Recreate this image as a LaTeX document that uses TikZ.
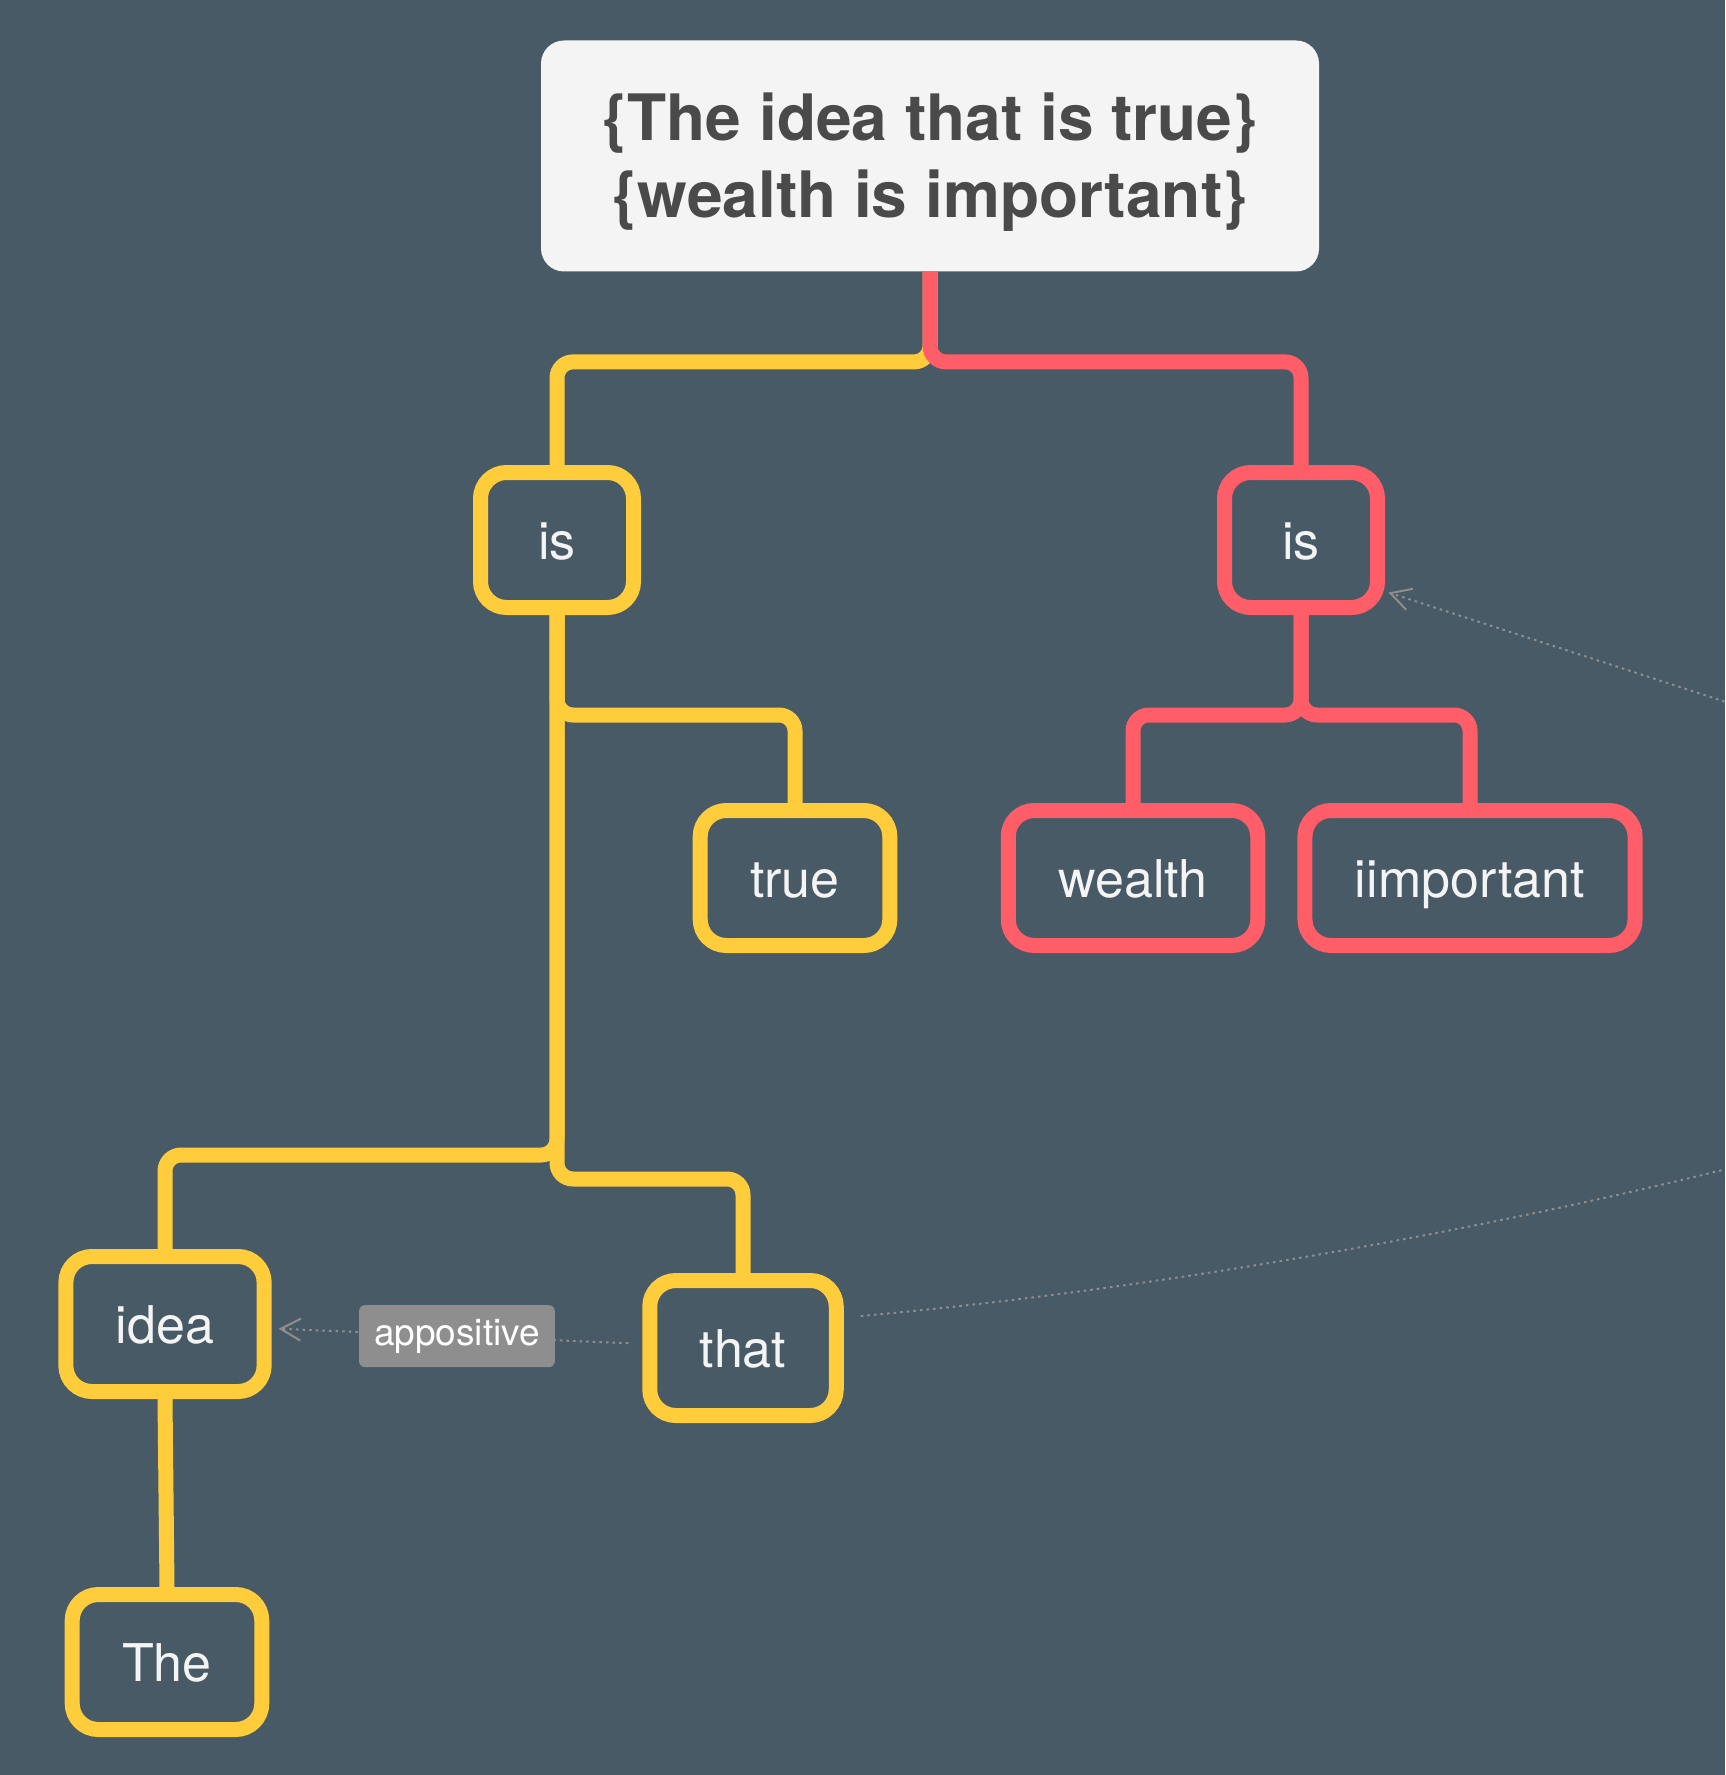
\documentclass[tikz,border=0pt]{standalone}
\usepackage{fontspec}
\setmainfont{TeX Gyre Heros}
\usetikzlibrary{arrows.meta}
\definecolor{slate}{RGB}{71,90,102}
\definecolor{sunny}{RGB}{255,205,60}
\definecolor{coral}{RGB}{255,94,104}
\definecolor{paper}{RGB}{244,244,244}
\definecolor{ink}{RGB}{74,74,74}
\definecolor{relgray}{RGB}{142,142,142}
\begin{document}
\begin{tikzpicture}[x=0.5pt,y=0.5pt,yscale=-1,
	word/.style={draw, line width=7.5pt, rounded corners=13pt, inner xsep=25pt, minimum width=76.5pt, minimum height=67.5pt, text height=19.3pt, text depth=0pt, text=paper, font=\fontsize{26}{31}\selectfont},
	yword/.style={word, draw=sunny},
	rword/.style={word, draw=coral},
	yline/.style={draw=sunny, line width=7.5pt, rounded corners=8pt},
	rline/.style={draw=coral, line width=7.5pt, rounded corners=8pt},
	rel/.style={draw=relgray, line width=1pt, dash pattern=on 1.3pt off 2pt, -{Straight Barb[length=10pt,width=11pt]}},
	reltag/.style={fill=relgray, rounded corners=3pt, text=white, inner xsep=7.5pt, minimum height=31pt, font=\fontsize{18.5}{22}\selectfont}]
	\fill[slate] (0,0) rectangle (1725,1775);
	\useasboundingbox (0,0) rectangle (1725,1775);
	\clip (0,0) rectangle (1725,1775);
	
	% Root
	\node[fill=paper, rounded corners=11.5pt, minimum width=389pt, minimum height=115.5pt, text=ink, align=center, font=\fontsize{32}{38.5}\selectfont\bfseries] (root) at (930,156) {\rule{0pt}{30pt}\{The idea that is true\}\\\{wealth is important\}};
	
	% Words
	\node[yword] (isL) at (557,540) {is};
	\node[rword] (isR) at (1301,540) {is};
	\node[yword] (true) at (795,878) {true};
	\node[rword] (wealth) at (1133,878) {wealth};
	\node[rword] (iimp) at (1470,878) {iimportant};
	\node[yword] (idea) at (165,1324) {idea};
	\node[yword] (that) at (743,1348) {that};
	\node[yword] (The) at (167,1662) {The};
	
	% Yellow branches
	\draw[yline] (root.south) -- ++(0,90) -| (isL.north);
	\draw[yline] (isL.south) -- ++(0,100) -| (true.north);
	\draw[yline] (isL.south) -- ++(0,540) -| (idea.north);
	\draw[yline] (isL.south) -- ++(0,564) -| (that.north);
	\draw[yline] (idea.south) -- (The.north);
	% Red branches
	\draw[rline] (root.south) -- ++(0,90) -| (isR.north);
	\draw[rline] (isR.south) -- ++(0,100) -| (wealth.north);
	\draw[rline] (isR.south) -- ++(0,100) -| (iimp.north);
	
	% Relations
	\coordinate (offA) at (1800,1150);
	\coordinate (offB) at (1800,726);
	\draw[rel, shorten <=7pt, shorten >=3.5pt] (that) -- node[reltag] {appositive} (idea);
	\draw[rel, -] ([shift={(17,-32)}]that.east) .. controls (1150,1290) and (1500,1230) .. (offA);
	\draw[rel] (offB) -- ([shift={(3.5,-22.5)}]isR.south east);
\end{tikzpicture}
\end{document}
